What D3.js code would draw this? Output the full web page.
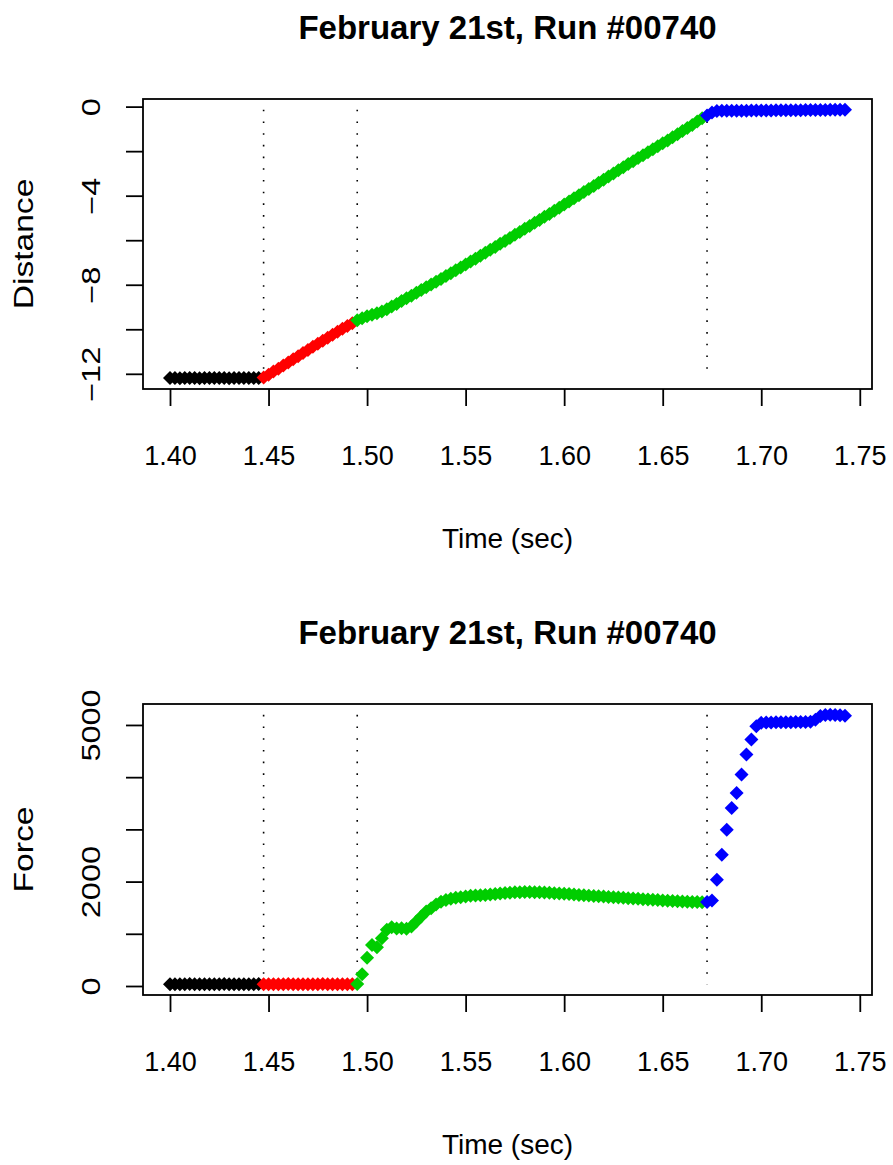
<!DOCTYPE html>
<html lang="en">
<head>
  <meta charset="UTF-8">
  <title>February 21st, Run #00740</title>
  <style>
    body { margin: 0; background: #fff; }
    svg text { font-family: "Liberation Sans", Arial, sans-serif; fill: #000; }
    .title  { font-size: 33px; font-weight: bold; }
    .lab    { font-size: 28px; }
    .box    { fill: none; stroke: #000; stroke-width: 1.8; }
    .split  { stroke: #000; stroke-width: 1.6; stroke-dasharray: 1.6 10.1; }
  </style>
</head>
<body>
  <svg id="chart" width="893" height="1165"></svg>

  <script src="https://d3js.org/d3.v7.min.js"></script>
  <script>
    // Sample times (sec)
    const TIME = [
      1.4000,1.4025,1.4050,1.4075,1.4100,1.4125,1.4150,1.4175,1.4200,1.4225,
      1.4250,1.4275,1.4300,1.4325,1.4350,1.4375,1.4400,1.4425,1.4450,1.4475,
      1.4500,1.4525,1.4550,1.4575,1.4600,1.4625,1.4650,1.4675,1.4700,1.4725,
      1.4750,1.4775,1.4800,1.4825,1.4850,1.4875,1.4900,1.4925,1.4950,1.4975,
      1.5000,1.5025,1.5050,1.5075,1.5100,1.5125,1.5150,1.5175,1.5200,1.5225,
      1.5250,1.5275,1.5300,1.5325,1.5350,1.5375,1.5400,1.5425,1.5450,1.5475,
      1.5500,1.5525,1.5550,1.5575,1.5600,1.5625,1.5650,1.5675,1.5700,1.5725,
      1.5750,1.5775,1.5800,1.5825,1.5850,1.5875,1.5900,1.5925,1.5950,1.5975,
      1.6000,1.6025,1.6050,1.6075,1.6100,1.6125,1.6150,1.6175,1.6200,1.6225,
      1.6250,1.6275,1.6300,1.6325,1.6350,1.6375,1.6400,1.6425,1.6450,1.6475,
      1.6500,1.6525,1.6550,1.6575,1.6600,1.6625,1.6650,1.6675,1.6700,1.6725,
      1.6750,1.6775,1.6800,1.6825,1.6850,1.6875,1.6900,1.6925,1.6950,1.6975,
      1.7000,1.7025,1.7050,1.7075,1.7100,1.7125,1.7150,1.7175,1.7200,1.7225,
      1.7250,1.7275,1.7300,1.7325,1.7350,1.7375,1.7400,1.7425
    ];
    // Distance, same samples
    const DISTANCE = [
      -12.19,-12.19,-12.20,-12.19,-12.19,-12.19,-12.20,-12.19,-12.19,-12.19,
      -12.19,-12.19,-12.20,-12.19,-12.19,-12.19,-12.19,-12.19,-12.19,-12.17,
      -12.04,-11.90,-11.77,-11.63,-11.49,-11.35,-11.21,-11.07,-10.93,-10.79,
      -10.65,-10.52,-10.38,-10.25,-10.11,-9.98,-9.85,-9.73,-9.60,-9.50,
      -9.42,-9.35,-9.28,-9.20,-9.10,-8.98,-8.86,-8.73,-8.61,-8.49,
      -8.36,-8.24,-8.11,-7.99,-7.86,-7.74,-7.61,-7.48,-7.35,-7.22,
      -7.09,-6.96,-6.83,-6.70,-6.56,-6.43,-6.30,-6.16,-6.03,-5.90,
      -5.76,-5.63,-5.49,-5.36,-5.22,-5.09,-4.95,-4.82,-4.68,-4.54,
      -4.40,-4.26,-4.12,-3.98,-3.84,-3.70,-3.56,-3.42,-3.28,-3.14,
      -3.00,-2.86,-2.72,-2.58,-2.45,-2.31,-2.18,-2.05,-1.92,-1.78,
      -1.65,-1.52,-1.38,-1.24,-1.10,-0.96,-0.82,-0.67,-0.52,-0.40,
      -0.26,-0.20,-0.19,-0.19,-0.18,-0.18,-0.18,-0.18,-0.17,-0.17,
      -0.17,-0.17,-0.17,-0.16,-0.16,-0.16,-0.16,-0.16,-0.16,-0.15,
      -0.15,-0.15,-0.15,-0.15,-0.14,-0.14,-0.14,-0.14
    ];
    // Force, same samples
    const FORCE = [
      35,35,34,35,36,35,35,34,35,35,
      35,36,35,35,34,35,35,35,36,35,
      35,34,35,35,36,35,35,34,35,35,
      35,36,35,35,34,35,35,35,40,224,
      543,787,743,916,1075,1127,1100,1105,1095,1138,
      1234,1330,1426,1491,1560,1615,1648,1672,1690,1702,
      1715,1727,1733,1738,1745,1752,1762,1772,1780,1788,
      1794,1798,1800,1799,1798,1795,1790,1784,1778,1772,
      1766,1760,1752,1745,1738,1731,1724,1718,1712,1706,
      1701,1695,1688,1682,1675,1669,1663,1657,1651,1645,
      1638,1632,1627,1622,1618,1614,1611,1608,1605,1610,
      1640,2035,2514,2994,3411,3699,4050,4434,4722,4977,
      5040,5045,5048,5050,5050,5052,5052,5055,5055,5058,
      5060,5100,5170,5190,5195,5190,5185,5175
    ];
    // Phase boundaries (sec) and phase colours
    const BREAKS = [1.4475, 1.495, 1.6725];
    const PHASE_COLORS = ["#000000", "#FF0000", "#00CD00", "#0000FF"];

    const TITLE = "February 21st, Run #00740";
    const X_TICKS = [1.40, 1.45, 1.50, 1.55, 1.60, 1.65, 1.70, 1.75];
    const DIST_TICKS = [0, -2, -4, -6, -8, -10, -12];
    const DIST_LABELS = [0, -4, -8, -12];
    const FORCE_TICKS = [0, 1000, 2000, 3000, 4000, 5000];
    const FORCE_LABELS = [0, 2000, 5000];

    // Plot boxes
    const L = 143, R = 872;
    const PANELS = [
      {top: 99,  bottom: 389, values: DISTANCE, ylab: "Distance", ticks: DIST_TICKS,  labels: DIST_LABELS},
      {top: 704, bottom: 995, values: FORCE,    ylab: "Force",    ticks: FORCE_TICKS, labels: FORCE_LABELS}
    ];

    // R-style axis range: data extent plus 4% each side
    const padExt = v => { const [a, b] = d3.extent(v), p = (b - a) * 0.04; return [a - p, b + p]; };
    const phase = t => BREAKS.filter(b => t >= b).length;

    const svg = d3.select("#chart");
    const x = d3.scaleLinear().domain(padExt(TIME)).range([L, R]);
    const fmt = d3.format("d");
    const diamond = d3.symbol(d3.symbolSquare, 98);

    PANELS.forEach(pn => {
      const y = d3.scaleLinear().domain(padExt(pn.values)).range([pn.bottom, pn.top]);
      const [vmin, vmax] = d3.extent(pn.values);

      // dotted phase separators, from data min to data max
      svg.selectAll(null).data(BREAKS).join("line").attr("class", "split")
        .attr("x1", d => x(d)).attr("x2", d => x(d))
        .attr("y1", y(vmax)).attr("y2", y(vmin));

      // points
      svg.append("g").selectAll("path").data(TIME).join("path")
        .attr("d", diamond)
        .attr("transform", (t, i) => `translate(${x(t)},${y(pn.values[i])}) rotate(45)`)
        .attr("fill", t => PHASE_COLORS[phase(t)]);

      // box
      svg.append("rect").attr("class", "box")
        .attr("x", L).attr("y", pn.top).attr("width", R - L).attr("height", pn.bottom - pn.top);

      // x axis
      const gx = svg.append("g").attr("transform", `translate(0,${pn.bottom})`)
        .call(d3.axisBottom(x).tickValues(X_TICKS).tickSize(17).tickFormat(d3.format(".2f")));
      gx.select(".domain").remove();
      gx.selectAll("line").attr("stroke-width", 1.8);
      gx.selectAll("text").attr("y", 76).attr("dy", null)
        .attr("font-size", 27).attr("font-family", null);

      // y axis with rotated labels
      const gy = svg.append("g").attr("transform", `translate(${L},0)`)
        .call(d3.axisLeft(y).tickValues(pn.ticks).tickSize(17)
          .tickFormat(d => pn.labels.includes(d) ? fmt(d) : ""));
      gy.select(".domain").remove();
      gy.selectAll("line").attr("stroke-width", 1.8);
      gy.selectAll("text").attr("x", 0).attr("dy", null)
        .attr("text-anchor", "middle").attr("font-size", 25).attr("font-family", null)
        .attr("transform", "translate(-43,0) rotate(-90) scale(1.3,1)");

      // titles
      svg.append("text").attr("class", "title")
        .attr("x", (L + R) / 2).attr("y", pn.top - 60)
        .attr("text-anchor", "middle").text(TITLE);
      svg.append("text").attr("class", "lab")
        .attr("x", (L + R) / 2).attr("y", pn.bottom + 159)
        .attr("text-anchor", "middle").text("Time (sec)");
      svg.append("text").attr("class", "lab")
        .attr("text-anchor", "middle")
        .attr("transform", `translate(33,${(pn.top + pn.bottom) / 2}) rotate(-90) scale(1.2,1)`)
        .text(pn.ylab);
    });
  </script>
</body>
</html>
